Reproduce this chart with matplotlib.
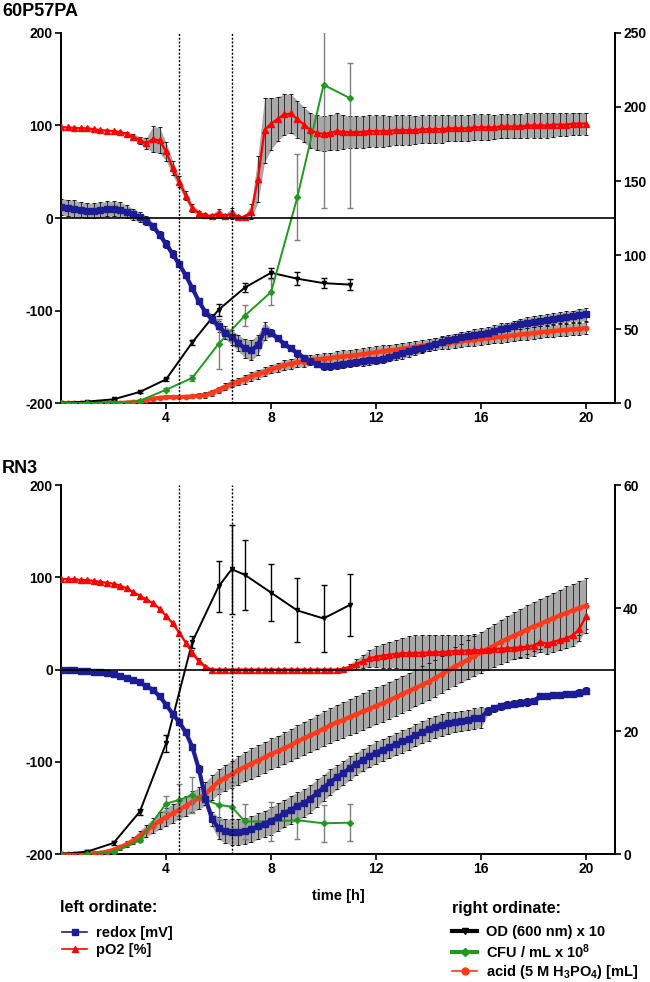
import numpy as np
import matplotlib.pyplot as plt
from matplotlib.lines import Line2D

plt.rcParams['font.family'] = ['Liberation Sans', 'DejaVu Sans']
plt.rcParams['font.weight'] = 'bold'
plt.rcParams['axes.unicode_minus'] = False
plt.rcParams['mathtext.fontset'] = 'custom'
plt.rcParams['mathtext.rm'] = 'Liberation Sans:bold'
plt.rcParams['mathtext.default'] = 'rm'

# zeitachse der online-messungen (h)
t = np.arange(0, 20.01, 0.25)

# ---- 60P57PA ----
redox_a = [12, 11, 10, 9, 8, 8, 9, 10, 10, 9, 7, 4,
           1, -3, -9, -18, -28, -39, -50, -62, -76, -90, -102, -109,
           -117, -124, -129, -135, -141, -143, -137, -122, -124, -130, -136, -141,
           -146, -151, -155, -158, -160, -160, -159, -158, -157, -156, -155, -154,
           -153, -152, -150, -148, -146, -144, -142, -140, -138, -136, -134, -132,
           -131, -129, -128, -126, -125, -124, -122, -120, -119, -117, -115, -113,
           -112, -111, -110, -109, -108, -107, -106, -105, -104]
redox_a_err = [9, 9, 9, 8, 8, 8, 8, 8, 8, 8, 7, 6,
               5, 5, 4, 4, 4, 4, 3, 3, 3, 3, 4, 5,
               6, 7, 8, 9, 10, 11, 11, 10, 4, 3, 3, 3,
               3, 3, 3, 3, 4, 4, 4, 4, 4, 4, 5, 5,
               5, 5, 5, 5, 6, 6, 6, 6, 6, 6, 6, 6,
               6, 6, 6, 6, 6, 6, 6, 6, 6, 6, 6, 6,
               6, 6, 6, 6, 6, 6, 6, 7, 7]
po2_a = [98, 98, 97.5, 97, 97, 96, 95, 94.5, 94, 93, 91, 88,
         84, 81, 85, 84, 72, 54, 39, 24, 11, 5, 3, 2,
         5, 2, 5, 1, 1, 7, 42, 95, 102, 107, 112, 113,
         107, 101, 95, 92, 91, 92, 94, 93, 93, 93, 93, 94,
         94, 94, 94, 95, 95, 95, 95, 96, 96, 96, 96, 97,
         97, 97, 97, 98, 98, 98, 98, 99, 99, 99, 99, 100,
         100, 100, 100, 101, 101, 101, 102, 102, 102]
po2_a_err = [0, 0, 0, 0, 0, 0, 0, 0, 1, 1, 2, 3,
             4, 6, 14, 14, 10, 8, 6, 5, 4, 3, 2, 2,
             5, 2, 6, 2, 2, 8, 25, 35, 28, 24, 22, 21,
             20, 19, 19, 19, 19, 19, 20, 18, 17, 17, 17, 17,
             17, 17, 16, 16, 16, 16, 15, 15, 15, 15, 15, 14,
             14, 14, 14, 14, 14, 14, 13, 13, 13, 13, 13, 13,
             13, 13, 13, 13, 12, 12, 12, 12, 12]
acid_a = [0, 0, 0, 0, 0, 0, 0, 0, 0, 0, 0.3, 0.6,
          1, 2, 3, 3.5, 4, 4, 4, 4.2, 4.5, 5, 5.5, 7,
          9, 11, 13, 14.5, 16, 18, 19.5, 21, 23, 24, 25.5, 26.5,
          27.5, 28, 29, 29.5, 30, 30.5, 31, 31.5, 32, 32.5, 33, 33.7,
          34.3, 35, 35.5, 36, 36.7, 37.3, 38, 38.6, 39.2, 39.8, 40.3, 40.8,
          41.3, 41.8, 42.3, 42.8, 43.3, 43.8, 44.3, 44.8, 45.3, 45.8, 46.3, 46.8,
          47.3, 47.8, 48.3, 48.7, 49.1, 49.5, 49.9, 50.2, 50.5]
acid_a_err = [0, 0, 0, 0, 0, 0, 0, 0, 0, 0, 0, 0,
              0.5, 0.5, 0.5, 0.5, 0.5, 0.5, 0.5, 1, 1, 1.5, 2, 2,
              2, 2.5, 2.5, 2.5, 3, 3, 3, 3, 3, 3, 3.5, 3.5,
              3.5, 3.5, 3.5, 3.5, 3.5, 3.5, 4, 4, 4, 4, 4, 4,
              4, 4, 4, 4, 4, 4, 4, 4, 4, 4, 4, 4,
              4, 4, 4, 4, 4, 4, 4, 4, 4, 4, 4, 4,
              4, 4, 4, 4, 4, 4, 4, 4, 4]
t_off_a = [0, 1, 2, 3, 4, 5, 6, 7, 8, 9, 10, 11]
od_a = [0, 1, 2.5, 7.5, 16, 41, 63, 78, 88, 84, 81, 80]
od_a_err = [0, 0, 0.3, 0.5, 1, 1.5, 4, 3, 3.4, 4.5, 3.4, 3.6]
cfu_a = [0, 0, 0, 1.5, 9, 17, 40, 59, 75, 139, 215, 206]
cfu_a_err_lo = [0, 0, 0, 0.5, 1, 2, 17, 7, 9, 29, 83, 74]
cfu_a_err_hi = [0, 0, 0, 0.5, 1, 2, 17, 7, 9, 29, 83, 24]

# ---- RN3 ----
redox_b = [0, -1, -1, -2, -2, -3, -3, -4, -5, -7, -9, -11,
           -14, -18, -22, -29, -38, -48, -57, -68, -84, -108, -140, -162,
           -172, -175, -176, -176, -175, -173, -170, -167, -164, -160, -156, -152,
           -148, -145, -140, -134, -128, -122, -117, -112, -107, -102, -98, -94,
           -90, -87, -84, -81, -78, -75, -71, -68, -65, -62, -60, -58,
           -57, -56, -55, -53, -52, -45, -42, -40, -38, -37, -36, -35,
           -34, -29, -29, -28, -28, -27, -26, -25, -23]
redox_b_err = [1, 1, 1, 1, 1, 1, 1, 1, 1, 1, 1, 1,
               1, 1, 1, 2, 2, 2, 3, 3, 3, 4, 5, 8,
               12, 13, 14, 14, 14, 14, 14, 14, 15, 15, 15, 15,
               15, 15, 15, 15, 14, 14, 13, 13, 13, 12, 12, 12,
               12, 12, 12, 12, 12, 12, 12, 12, 12, 12, 12, 12,
               11, 11, 11, 11, 11, 4, 4, 4, 4, 4, 4, 4,
               3, 3, 3, 3, 3, 3, 3, 4, 4]
po2_b = [98, 98, 98, 97, 97, 96, 95, 94, 93, 91, 88, 84,
         80, 76, 72, 66, 58, 50, 40, 29, 18, 9, 3, 0,
         0, 0, 0, 0, 0, 0, 0, 0, 0, 0, 0, 0,
         0, 0, 0, 0, 0, 0, 0, 1, 3, 6, 9, 12,
         14, 15, 16, 17, 17.5, 17.8, 18, 18.2, 18.5, 18.8, 19, 19.5,
         20, 20.2, 20.5, 21, 21, 21.5, 22, 22.5, 23, 23.5, 24, 25,
         26, 30, 28, 30, 32, 34, 37, 44, 58]
po2_b_err = [0, 0, 0, 0, 0, 0, 0, 0, 0, 0, 0, 0,
             0, 0, 0, 0, 0, 0, 1, 2, 3, 3, 2, 0,
             0, 0, 0, 0, 0, 0, 0, 0, 0, 0, 0, 0,
             0, 0, 0, 0, 0, 0, 0, 1, 3, 5, 7, 9,
             11, 13, 14, 15, 17, 18, 19, 19, 19, 19, 18, 18,
             17, 17, 17, 17, 17, 16, 15, 14, 13, 12, 12, 12,
             11, 11, 11, 11, 11, 11, 12, 13, 14]
acid_b = [0, 0, 0, 0, 0, 0.1, 0.2, 0.4, 0.7, 1.1, 1.6, 2.2,
          3.0, 3.8, 4.6, 5.4, 6.0, 6.6, 7.2, 7.8, 8.5, 9.1, 9.8, 10.8,
          11.8, 12.4, 13.0, 13.6, 14.2, 14.7, 15.2, 15.7, 16.3, 16.7, 17.2, 17.7,
          18.3, 18.8, 19.3, 19.8, 20.4, 20.9, 21.4, 21.8, 22.3, 22.7, 23.2, 23.6,
          24.1, 24.5, 25.0, 25.5, 26.0, 26.5, 27.0, 27.5, 28.0, 28.6, 29.2, 29.9,
          30.5, 31.0, 31.6, 32.2, 32.8, 33.4, 33.9, 34.5, 35.0, 35.5, 36.0, 36.5,
          37.0, 37.4, 37.9, 38.3, 38.8, 39.2, 39.6, 40.0, 40.4]
acid_b_err = [0, 0, 0, 0, 0, 0, 0, 0, 0.3, 0.4, 0.5, 0.6,
              0.8, 1, 1.2, 1.4, 1.5, 1.5, 1.5, 1.6, 1.7, 1.8, 1.9, 2,
              2, 2.1, 2.2, 2.3, 2.4, 2.5, 2.5, 2.5, 2.5, 2.5, 2.6, 2.6,
              2.7, 2.7, 2.7, 2.8, 2.8, 2.8, 2.9, 2.9, 2.9, 3, 3, 3,
              3, 3, 3, 3, 3, 3, 3, 3, 3, 3, 3, 3,
              3.1, 3.1, 3.2, 3.2, 3.3, 3.4, 3.5, 3.6, 3.7, 3.8, 3.9, 4,
              4, 4.1, 4.1, 4.2, 4.2, 4.3, 4.3, 4.4, 4.4]
t_od_b = [0, 1, 2, 3, 4, 5, 6, 6.5, 7, 8, 9, 10, 11]
od_b = [0, 0.4, 1.8, 6.9, 18, 34.5, 43.5, 46.3, 45.4, 42.5, 39.6, 38.3, 40.5]
od_b_err = [0, 0.2, 0.3, 0.5, 1.4, 1, 4.2, 7.2, 5.7, 4.6, 5.2, 5.4, 5]
t_cfu_b = [0, 1, 2, 3, 4, 4.5, 5, 6, 6.5, 7, 8, 9, 10, 11]
cfu_b = [0, 0, 0.3, 2.3, 8.2, 8.8, 9.6, 8, 7.7, 5.3, 5.3, 5.5, 5, 5.1]
cfu_b_err = [0, 0, 0, 0.3, 1.3, 2.6, 2.9, 2.5, 4, 2.9, 3.1, 3, 3, 3]

BLUE = '#1c1c96'
RED = '#ff0000'
ACID = '#ff3a1a'
GREEN = '#1f9a1f'


def band(ax, x, y, e, z):
    """Fehlerband: graue Flaeche + dichte Fehlerbalken."""
    y = np.asarray(y, float)
    e = np.asarray(e, float)
    ax.fill_between(x, y - e, y + e, color='#a8a8a8', lw=0, zorder=z)
    ax.errorbar(x, y, yerr=e, fmt='none', ecolor='black', elinewidth=0.5,
                capsize=1.6, capthick=0.6, zorder=z + 0.1)


def points(ax, x, y, e, color, marker, ecol, z):
    ax.errorbar(x, y, yerr=e, color=color, lw=1.4, marker=marker, ms=3,
                ecolor=ecol, elinewidth=1.0, capsize=2.5, capthick=1.0, zorder=z)


def panel(rect, title, title_y, redox, redox_err, po2, po2_err, acid, acid_err,
          t_od, od, od_err, t_cfu, cfu, cfu_err, rmax, rticks):
    # drei ebenen: linke baender, rechte ordinate, linke kurven
    ax = fig.add_axes(rect)
    ax2 = ax.twinx()
    ax3 = fig.add_axes(rect, sharex=ax, sharey=ax)
    ax.set_zorder(1)
    ax2.set_zorder(2)
    ax3.set_zorder(3)
    ax2.patch.set_visible(False)
    ax3.patch.set_visible(False)
    ax3.axis('off')
    fig.text(0.003, title_y, title, fontsize=13, fontweight='bold', va='center')

    band(ax, t, redox, redox_err, 2)
    band(ax, t, po2, po2_err, 4)
    ax3.plot(t, redox, color=BLUE, lw=3, marker='s', ms=3.8, zorder=3)
    ax3.plot(t, po2, color=RED, lw=1.6, marker='^', ms=3.8, zorder=5)
    ax3.axhline(0, color='black', lw=1.2, zorder=6)
    for xv in (4.5, 6.5):
        ax3.axvline(xv, color='black', lw=1.0, ls=(0, (1.5, 1.2)), zorder=6)

    band(ax2, t, acid, acid_err, 2)
    ax2.plot(t, acid, color=ACID, lw=3, marker='o', ms=3.2, zorder=3)
    points(ax2, t_od, od, od_err, 'black', 'v', 'black', 5)
    points(ax2, t_cfu, cfu, cfu_err, GREEN, 'D', '#7f7f7f', 5)

    ax.set_xlim(0, 21.1)
    ax.set_ylim(-200, 200)
    ax.set_yticks([-200, -100, 0, 100, 200])
    ax.set_xticks([4, 8, 12, 16, 20])
    ax2.set_ylim(0, rmax)
    ax2.set_yticks(rticks)
    for a in (ax, ax2):
        a.spines['top'].set_visible(False)
        for s in ('left', 'right', 'bottom'):
            a.spines[s].set_linewidth(1.3)
        a.tick_params(direction='out', length=4, width=1.2, labelsize=10, pad=2)
        for lab in a.get_xticklabels() + a.get_yticklabels():
            lab.set_fontweight('bold')
    return ax, ax2


fig = plt.figure(figsize=(6.5, 9.82), dpi=100)

panel([0.094, 0.5896, 0.852, 0.3768], '60P57PA', 0.988,
      redox_a, redox_a_err, po2_a, po2_a_err, acid_a, acid_a_err,
      t_off_a, od_a, od_a_err, t_off_a, cfu_a, [cfu_a_err_lo, cfu_a_err_hi],
      250, [0, 50, 100, 150, 200, 250])
axb, axb2 = panel([0.094, 0.1303, 0.852, 0.3758], 'RN3', 0.523,
                  redox_b, redox_b_err, po2_b, po2_b_err, acid_b, acid_b_err,
                  t_od_b, od_b, od_b_err, t_cfu_b, cfu_b, cfu_b_err,
                  60, [0, 20, 40, 60])
axb.set_xlabel('time [h]', fontsize=10.5, fontweight='bold', labelpad=9)

# legenden
fig.text(0.093, 1 - 908 / 982, 'left ordinate:', fontsize=11.5,
         fontweight='bold', va='center')
fig.text(0.695, 1 - 909 / 982, 'right ordinate:', fontsize=11.5,
         fontweight='bold', va='center')
left_h = [Line2D([], [], color=BLUE, lw=1.2, marker='s', ms=5),
          Line2D([], [], color=RED, lw=1.2, marker='^', ms=5)]
right_h = [Line2D([], [], color='black', lw=3, marker='v', ms=5),
           Line2D([], [], color=GREEN, lw=3, marker='D', ms=4),
           Line2D([], [], color=ACID, lw=1.2, marker='o', ms=5)]
leg_kw = dict(frameon=False, fontsize=10.5, handlelength=1.75, handletextpad=0.6,
              labelspacing=0.2, borderaxespad=0, borderpad=0)
leg1 = fig.legend(left_h, ['redox [mV]', 'pO2 [%]'], loc='upper left',
                  bbox_to_anchor=(0.095, 1 - 926 / 982), **leg_kw)
leg2 = fig.legend(right_h, ['OD (600 nm) x 10', 'CFU / mL x 10$^8$',
                            'acid (5 M H$_3$PO$_4$) [mL]'], loc='upper left',
                  bbox_to_anchor=(0.695, 1 - 925 / 982), **leg_kw)
for lg in (leg1, leg2):
    for tx in lg.get_texts():
        tx.set_fontweight('bold')

fig.savefig('out.png', dpi=100)
